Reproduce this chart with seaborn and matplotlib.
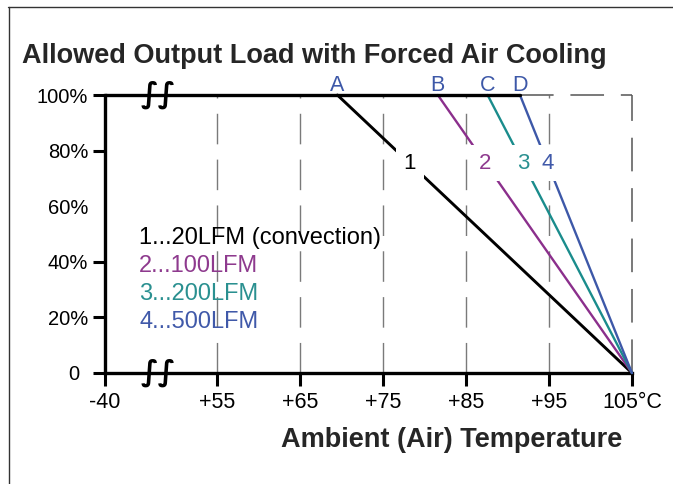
import matplotlib
matplotlib.use("Agg")
import matplotlib.pyplot as plt
from matplotlib.lines import Line2D
from matplotlib.transforms import ScaledTranslation
import seaborn as sns
import pandas as pd

# ---- data ----
series = ["1", "2", "3", "4"]
start_labels = ["A", "B", "C", "D"]
start_temp = [69.5, 81.6, 87.6, 91.5]     # where derating starts (100% load)
end_temp = [105, 105, 105, 105]           # 0% load
legend_texts = ["1...20LFM (convection)", "2...100LFM", "3...200LFM", "4...500LFM"]
colors = ["#000000", "#8B2F8C", "#1A8C8C", "#3D58A8"]
label_colors = ["#000000", "#8E3A8E", "#2A9090", "#4059A9"]
x_ticks = [41.5, 55, 65, 75, 85, 95, 105]           # axis broken between -40 and +55
x_ticklabels = ["-40", "+55", "+65", "+75", "+85", "+95", "105°C"]
y_ticks = [0, 20, 40, 60, 80, 100]
y_ticklabels = ["0", "20%", "40%", "60%", "80%", "100%"]
curve_label_load = 75.5
break_pos = 47.9

sns.set_style("white")
plt.rcParams["font.family"] = ["Liberation Sans", "DejaVu Sans"]

W, H = 673, 484
fig = plt.figure(figsize=(W / 100, H / 100), dpi=100)
ax = fig.add_axes([105 / W, (H - 373) / H, 527 / W, 278 / H])
ax.set_xlim(x_ticks[0], 105)
ax.set_ylim(0, 100)

rows = []
for s, t0, t1 in zip(series, start_temp, end_temp):
    rows.append({"series": s, "temp": t0, "load": 100})
    rows.append({"series": s, "temp": t1, "load": 0})
df = pd.DataFrame(rows)

# grid (dashed verticals)
for xv in x_ticks[1:-1]:
    ax.plot([xv, xv], [0, 100], color="#7a7a7a", lw=1.0, linestyle=(0, (22, 11)), zorder=1, clip_on=False)
ax.plot([105, 105], [0, 100], color="#555555", lw=1.1, linestyle=(0, (22, 11)), zorder=1, clip_on=False)
ax.plot([max(start_temp), 105], [100, 100], color="#555555", lw=1.1, linestyle=(0, (22, 11)), zorder=1, clip_on=False)

# plateau line
plateau = pd.DataFrame({"temp": [x_ticks[0], max(start_temp)], "load": [100, 100]})
sns.lineplot(data=plateau, x="temp", y="load", color="black", lw=2.4, ax=ax, zorder=4)
ax.lines[-1].set_clip_on(False)

sns.lineplot(data=df, x="temp", y="load", hue="series", palette=dict(zip(series, colors)),
             legend=False, ax=ax, zorder=3, estimator=None, sort=True)
for ln in ax.lines[-4:]:
    ln.set_clip_on(False)
    ln.set_linewidth(1.7)
ax.lines[-4].set_linewidth(2.1)

# curve number labels with gaps
for s, t0, t1, c in zip(series, start_temp, end_temp, label_colors):
    xl = t0 + (t1 - t0) * (100 - curve_label_load) / 100
    ax.text(xl, curve_label_load, s, color=c, fontsize=16, ha="center", va="center", zorder=6,
            bbox=dict(boxstyle="square,pad=0.35", fc="white", ec="none"))

# start labels A..D
for lab, t0 in zip(start_labels, start_temp):
    ax.text(t0, 99.6, lab, color="#3D58A8", fontsize=15.5, ha="center", va="bottom", zorder=6)

# legend texts
for i, (t, c) in enumerate(zip(legend_texts, label_colors)):
    ax.text(45.6, 48.6 - i * 10.1, t, color=c, fontsize=17, ha="left", va="center")

# axes styling
for sp in ["top", "right"]:
    ax.spines[sp].set_visible(False)
ax.spines["left"].set_linewidth(2.4)
ax.spines["bottom"].set_linewidth(2.4)
ax.spines["left"].set_color("black")
ax.spines["bottom"].set_color("black")
ax.set_xticks(x_ticks)
ax.set_xticklabels(x_ticklabels, fontsize=15.5)
ax.set_yticks(y_ticks)
ax.set_yticklabels(y_ticklabels, fontsize=14.5)
ax.tick_params(axis="x", direction="out", length=9, width=2.2, pad=5, colors="black", bottom=True)
ax.tick_params(axis="y", direction="out", length=9, width=2.2, pad=3, colors="black", left=True)
ax.yaxis.get_major_ticks()[3].tick1line.set_visible(False)
lab0 = ax.yaxis.get_major_ticks()[0].label1
lab0.set_transform(lab0.get_transform() + ScaledTranslation(-9 / 100, 0, fig.dpi_scale_trans))
ax.set_xlabel("Ambient (Air) Temperature", fontsize=19.5, fontweight="bold")
ax.xaxis.label.set_va("center")
ax.xaxis.set_label_coords((452 - 105) / 527, (373 - 440) / 278)
ax.set_ylabel("")

# axis break marks
for yb in [100, 0]:
    ax.text(break_pos, yb, "∫∫", fontsize=21, fontweight="bold", ha="center", va="center",
            color="black", family="DejaVu Sans", zorder=7, clip_on=False)

fig.text(22 / W, 1 - 56 / H, "Allowed Output Load with Forced Air Cooling", fontsize=19.5,
         fontweight="bold", ha="left", va="center")

# frame lines
fig.add_artist(Line2D([8 / W, 1], [1 - 7 / H, 1 - 7 / H], color="#333333", lw=1.0))
fig.add_artist(Line2D([9 / W, 9 / W], [0, 1 - 7 / H], color="#333333", lw=1.0))

fig.savefig("out.png", dpi=100)
